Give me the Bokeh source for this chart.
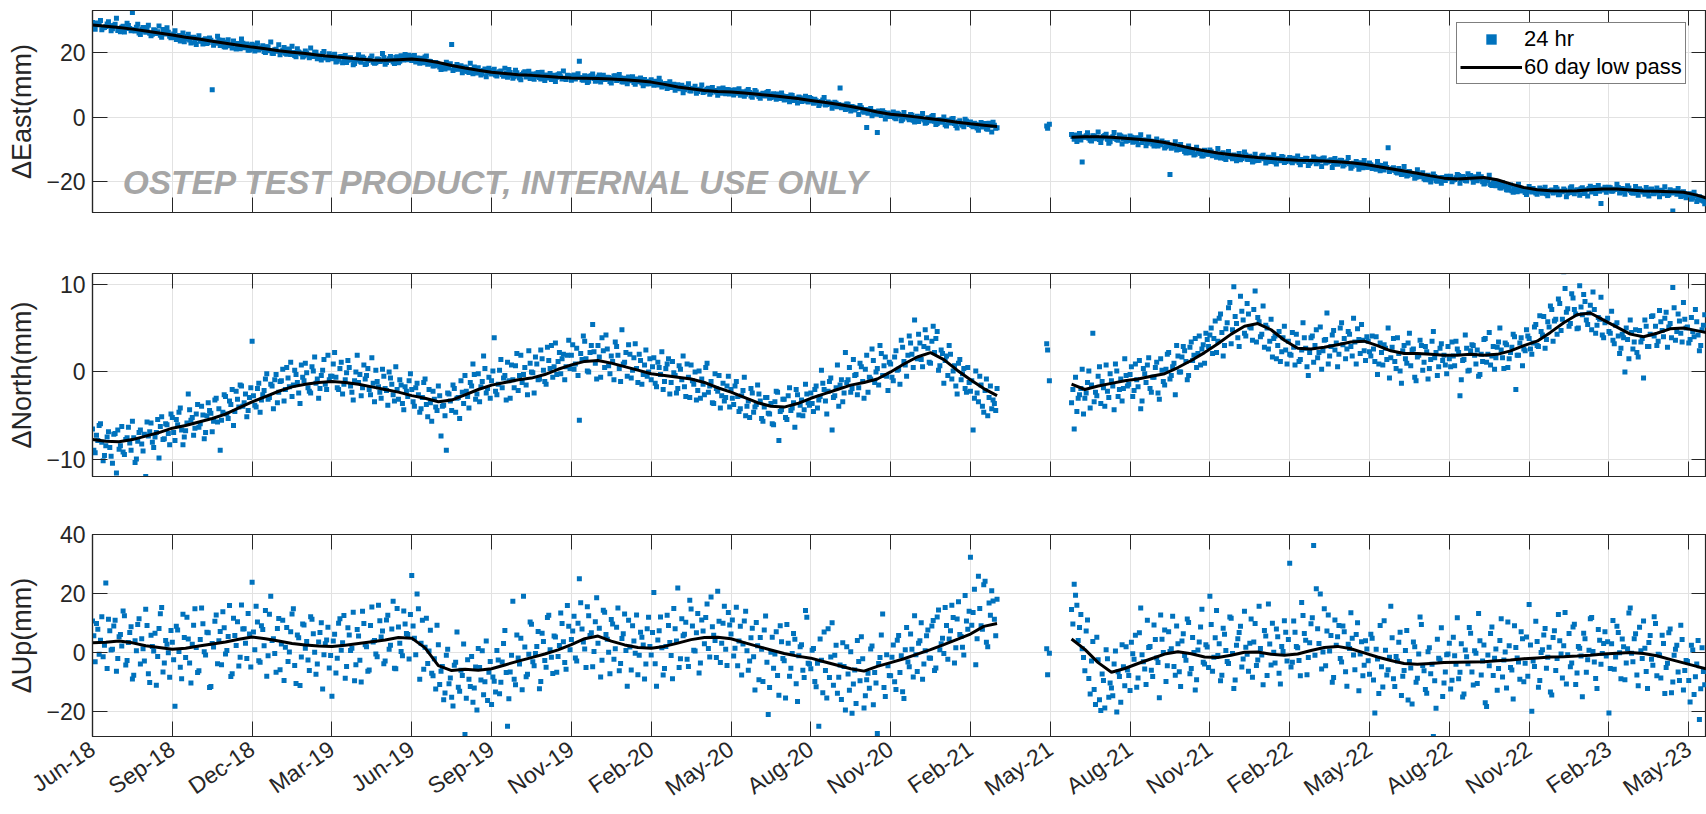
import math
import numpy as np
import pandas as pd
from bokeh.plotting import figure
from bokeh.layouts import column
from bokeh.models import (Range1d, FixedTicker, LinearAxis, CustomJSTickFormatter,
                          Label, Legend, LegendItem, ColumnDataSource)
from bokeh.embed import file_html
from bokeh.resources import INLINE

# ---------------- data ----------------
seg1_start = "2018-06-08"     # first block of 24 hr solutions
seg2_start = "2021-06-16"     # second block
gap_dates = ["2021-05-19", "2021-05-20", "2021-05-22"]
sample_step_days = 3          # each series "a" / "b" is read every 3 days, b shifted by 1.5 days
b_offset_days = 1.5
lowpass_step_days = 15

east_seg1 = [
    29.5, 27.4, 28.9, 30.1, 27.8, 28.2, 29.7, 26.9, 28.5, 30.8, 27.1, 28.0, 26.5, 29.2, 27.6, 32.6, 26.8, 28.9, 25.7, 27.9, 26.4, 28.6, 25.3, 27.2, 26.0, 28.4, 24.9, 26.7, 27.8, 25.2,
    24.8, 26.9, 25.1, 23.7, 26.2, 24.4, 25.8, 23.1, 24.9, 22.6, 25.3, 23.8, 24.1, 22.9, 24.6, 8.5, 23.4, 25.2, 22.3, 23.9, 21.8, 24.1, 22.5, 23.7, 21.2, 22.9, 24.3, 21.6, 22.8, 20.9,
    22.7, 20.6, 23.1, 21.4, 22.2, 20.1, 21.8, 23.4, 19.8, 21.1, 22.5, 20.3, 21.7, 19.6, 20.9, 22.1, 19.2, 21.3, 20.0, 18.7, 20.6, 19.4, 21.5, 18.9, 20.2, 19.1, 17.8, 20.4, 18.6, 19.7,
    18.2, 19.6, 17.4, 18.8, 16.9, 19.2, 17.7, 18.5, 16.3, 17.9, 19.4, 17.1, 18.3, 16.6, 17.8, 19.0, 16.8, 18.1, 17.3, 19.8, 16.5, 17.6, 18.9, 17.2, 18.6, 16.9, 19.1, 17.8, 18.4, 19.3,
    17.6, 19.2, 18.4, 16.8, 17.9, 18.7, 16.5, 17.3, 15.9, 17.0, 16.2, 14.8, 15.7, 17.1, 15.3, 22.6, 14.9, 16.4, 15.1, 13.8, 15.6, 14.2, 16.8, 13.5, 14.7, 15.4, 13.1, 14.5, 12.6, 15.2,
    13.4, 14.9, 12.8, 14.1, 13.3, 15.2, 12.4, 13.9, 12.1, 14.6, 13.0, 11.6, 13.7, 12.5, 14.3, 12.9, 11.8, 13.5, 12.3, 14.0, 11.4, 12.8, 13.6, 12.0, 11.1, 13.2, 12.6, 14.4, 11.7, 12.9,
    11.5, 13.1, 12.4, 17.4, 11.6, 12.9, 10.8, 12.7, 13.4, 11.2, 12.5, 10.9, 13.0, 11.8, 12.3, 10.6, 12.8, 11.4, 13.3, 11.0, 12.1, 10.4, 11.9, 12.6, 10.2, 11.5, 12.2, 9.8, 11.1, 10.5,
    11.6, 9.9, 10.7, 12.1, 9.4, 10.3, 8.9, 11.0, 9.6, 8.4, 10.1, 8.8, 7.6, 9.3, 10.4, 8.1, 9.0, 7.4, 8.6, 10.0, 7.9, 8.7, 7.1, 9.2, 8.3, 6.8, 8.0, 9.1, 7.3, 8.5,
    8.4, 6.9, 7.6, 8.8, 7.2, 6.5, 8.1, 7.7, 6.2, 8.3, 7.0, 5.9, 7.4, 6.6, 8.0, 6.1, 7.3, 5.6, 6.8, 7.5, 5.3, 6.4, 4.8, 6.7, 5.5, 4.4, 6.0, 5.1, 6.5, 4.7,
    5.8, 4.3, 5.1, 3.6, 4.9, 6.1, 3.9, 4.4, 2.8, 4.6, 3.2, 9.1, 3.7, 2.4, 4.0, 1.9, 3.1, 2.6, 0.8, 2.9, 1.5, -3.2, 2.2, 0.4, 1.7, -4.8, 0.9, 2.0, -0.6, 1.3,
    0.2, 1.6, -0.5, 0.9, -1.1, 1.4, 0.1, -0.8, 0.6, -1.5, 0.3, -0.4, 1.1, -1.9, -0.2, -1.2, 0.5, -2.3, -0.9, -1.6, 0.0, -2.8, -1.3, -0.6, -2.0, -3.4, -1.1, -2.5, -0.7, -1.8,
    -1.5, -3.0, -2.2, -4.1, -1.7, -2.9, -3.6, -1.9, -4.6, -2.5, -3.3,
]
east_seg1_b = [
    28.1, 29.3, 28.8, 27.2, 27.9, 29.0, 28.4, 27.5, 28.9, 27.0, 26.6, 28.3, 27.7, 28.5, 26.9, 27.3, 28.0, 26.2, 27.4, 26.8, 27.9, 26.1, 25.8, 27.0, 26.6, 25.5, 27.3, 25.9, 26.4, 24.7,
    25.9, 24.2, 25.4, 24.7, 23.5, 25.1, 24.0, 24.8, 23.3, 24.5, 23.6, 22.8, 24.4, 23.2, 23.9, 22.4, 23.0, 24.0, 22.7, 21.9, 23.3, 22.2, 21.5, 22.9, 22.1, 21.3, 23.0, 21.7, 20.8, 22.4,
    21.2, 22.3, 20.9, 21.6, 20.4, 21.9, 20.7, 19.9, 21.0, 20.5, 19.4, 20.8, 19.9, 21.2, 19.5, 20.1, 18.8, 20.3, 19.7, 19.0, 20.0, 18.5, 19.3, 20.2, 18.2, 19.0, 19.8, 18.4, 17.9, 19.1,
    18.6, 17.2, 18.0, 18.9, 17.5, 17.0, 18.4, 17.9, 16.7, 18.2, 17.4, 18.7, 16.4, 17.6, 18.3, 17.1, 16.9, 18.0, 17.5, 18.6, 17.0, 18.2, 17.7, 16.7, 18.8, 17.4, 18.1, 19.5, 17.9, 18.5,
    18.9, 17.2, 17.8, 18.3, 16.9, 19.0, 17.4, 16.6, 16.0, 16.8, 15.6, 16.3, 15.0, 16.1, 16.6, 14.5, 15.8, 14.9, 16.0, 14.4, 15.3, 13.9, 14.8, 15.6, 13.7, 14.2, 13.5, 15.0, 13.9, 14.3,
    14.5, 13.1, 13.8, 14.4, 12.7, 13.6, 14.8, 13.0, 12.6, 13.8, 12.2, 13.3, 14.1, 12.8, 12.0, 13.4, 12.7, 13.9, 11.9, 12.5, 13.1, 12.2, 11.7, 13.0, 12.4, 13.5, 11.9, 12.1, 13.0, 12.6,
    12.8, 11.9, 13.5, 12.3, 11.5, 12.6, 11.2, 12.9, 12.0, 11.4, 13.1, 12.2, 11.7, 12.4, 11.1, 12.0, 12.9, 11.6, 12.2, 10.9, 11.8, 12.5, 11.3, 10.8, 11.9, 11.0, 10.6, 11.7, 10.3, 11.2,
    10.4, 11.2, 10.0, 10.9, 9.7, 10.5, 9.9, 9.2, 10.2, 8.9, 9.5, 9.9, 8.5, 9.1, 8.2, 8.9, 9.6, 8.0, 8.7, 7.7, 8.4, 9.0, 7.6, 8.2, 7.8, 8.8, 7.4, 7.9, 8.6, 7.2,
    7.9, 8.5, 7.4, 6.8, 7.9, 7.1, 8.6, 6.6, 7.3, 7.8, 6.4, 7.1, 6.7, 7.7, 5.9, 6.9, 6.3, 7.2, 5.8, 6.6, 6.1, 5.5, 6.9, 5.2, 5.9, 6.3, 4.9, 5.7, 5.0, 6.1,
    5.0, 5.6, 4.6, 4.1, 5.3, 3.8, 4.7, 4.2, 3.4, 4.3, 3.9, 2.9, 3.5, 4.1, 2.7, 3.3, 2.2, 2.9, 3.6, 1.8, 2.4, 1.2, 2.7, 1.6, 0.9, 1.9, 0.5, 1.4, 0.2, 1.0,
    0.7, -0.2, 1.2, 0.4, -0.7, 0.2, -0.3, 0.8, -1.0, -0.1, -1.4, 0.0, -0.9, -1.7, -0.5, 0.2, -1.3, -2.0, -0.8, -1.4, -2.4, -1.0, -1.8, -0.4, -2.6, -1.5, -2.1, -3.0, -1.2, -2.3,
    -2.6, -1.9, -3.4, -2.4, -3.1, -2.0, -3.8, -2.7, -1.6, -3.5,
]
east_gap = [-2.8, -3.5, -2.2]
east_seg2 = [
    -5.4, -6.9, -7.6, -5.1, -14.0, -6.3, -4.9, -7.2, -5.8, -6.7, -4.6, -7.9, -6.0, -5.3, -8.1, -6.5, -4.8, -7.0, -5.6, -8.4, -6.2, -7.3,
    -5.9, -7.8, -6.4, -8.6, -5.5, -7.1, -8.9, -6.2, -7.5, -9.0, -6.8, -8.2, -7.4, -9.6, -8.0, -17.9, -9.3, -7.7, -10.1, -8.5, -9.8, -11.2, -9.0, -10.6, -11.8, -9.4, -10.9, -12.1, -10.3, -11.5,
    -10.2, -12.0, -11.4, -9.8, -12.7, -11.1, -13.2, -10.7, -12.4, -11.8, -13.6, -11.3, -12.9, -10.9, -13.1, -12.2, -14.0, -11.6, -13.5, -12.8, -11.9, -14.3, -12.5, -13.8, -11.7, -14.6, -13.0, -12.3, -14.1, -13.4,
    -12.6, -14.2, -13.7, -12.1, -14.8, -13.3, -12.8, -15.1, -13.9, -12.4, -14.5, -13.1, -15.4, -12.7, -14.0, -13.6, -15.7, -12.9, -14.7, -13.4, -15.2, -14.1, -12.6, -15.9, -14.4, -13.8, -16.2, -14.9, -13.5, -15.6,
    -14.3, -16.0, -15.5, -13.8, -16.7, -15.1, -14.6, -9.5, -16.3, -15.8, -17.2, -16.0, -17.9, -15.4, -18.3, -16.9, -17.6, -19.0, -16.4, -18.6, -17.3, -19.5, -18.1, -20.2, -17.7, -19.8, -18.9, -20.6, -19.3, -18.4,
    -18.8, -20.1, -19.4, -17.9, -20.6, -18.5, -19.7, -17.6, -18.2, -20.3, -19.0, -17.8, -18.6, -20.8, -19.5, -18.1, -21.3, -19.9, -20.7, -22.0, -20.4, -21.6, -22.7, -21.1, -23.4, -22.2, -20.9, -23.0, -22.5, -24.1,
    -21.6, -23.3, -22.8, -24.0, -22.1, -23.7, -21.8, -24.5, -22.9, -23.6, -21.9, -24.2, -23.1, -22.4, -24.8, -23.5, -21.7, -23.9, -22.6, -24.3, -22.0, -23.2, -24.6, -21.5, -22.8, -23.8, -21.3, -26.9, -22.7, -23.4,
    -21.8, -23.1, -22.5, -20.9, -23.6, -22.2, -24.0, -21.4, -22.9, -23.7, -21.6, -24.3, -22.8, -23.3, -21.9, -24.6, -22.4, -23.9, -22.1, -24.8, -23.0, -21.7, -24.4, -22.6, -29.2, -23.5, -22.2, -24.7, -23.2, -25.1,
    -24.0, -25.6, -23.4, -26.3, -24.8, -25.9, -27.0,
]
east_seg2_b = [
    -6.0, -5.6, -6.8, -7.1, -6.2, -5.8, -6.6, -7.4, -5.9, -6.3, -7.0, -6.5, -5.7, -6.9, -7.7, -6.1, -6.6, -7.2, -5.9, -6.8, -7.5,
    -7.1, -6.3, -6.9, -7.6, -6.5, -7.9, -7.2, -8.1, -7.5, -8.4, -7.8, -9.0, -8.6, -8.0, -9.2, -8.8, -9.7, -9.1, -10.2, -9.5, -10.0, -10.7, -9.9, -11.1, -10.5, -11.6, -10.8, -11.3, -12.0, -11.0,
    -11.6, -10.8, -11.9, -12.5, -11.4, -12.2, -12.8, -11.7, -12.3, -13.0, -12.1, -12.7, -13.3, -12.4, -11.8, -13.2, -12.6, -13.7, -12.9, -13.4, -12.2, -13.0, -13.9, -12.7, -13.3, -14.0, -12.9, -13.6, -12.5, -13.8,
    -13.1, -13.9, -12.8, -13.5, -14.1, -13.2, -13.8, -12.9, -14.4, -13.6, -13.0, -14.0, -13.7, -12.8, -14.3, -13.9, -13.3, -14.6, -13.8, -14.2, -13.5, -14.8, -14.0, -14.5, -15.3, -14.7, -15.0, -14.2, -15.8, -15.2,
    -15.6, -14.8, -15.3, -16.2, -15.0, -15.9, -16.5, -15.7, -16.9, -16.1, -16.6, -17.4, -16.8, -17.7, -17.0, -18.1, -17.5, -17.9, -18.7, -18.0, -18.4, -19.2, -18.6, -19.5, -19.0, -18.5, -20.0, -19.4, -18.8, -19.7,
    -19.1, -18.4, -19.6, -18.9, -18.2, -19.3, -18.7, -19.9, -18.3, -19.0, -18.6, -19.8, -19.2, -20.1, -20.6, -19.7, -21.0, -20.4, -21.4, -20.9, -22.1, -21.5, -22.6, -21.8, -22.9, -22.3, -23.2, -22.0, -22.7, -23.5,
    -22.6, -23.0, -22.2, -23.6, -22.9, -23.3, -22.5, -23.9, -23.1, -22.7, -23.4, -22.4, -24.0, -23.2, -22.8, -23.7, -22.1, -23.5, -22.9, -23.0, -22.3, -23.8, -22.6, -22.2, -23.3, -21.9, -22.7, -23.1, -22.4, -21.8,
    -22.7, -22.0, -23.0, -22.4, -21.9, -22.8, -23.3, -22.5, -22.1, -23.5, -22.9, -23.6, -22.3, -23.1, -24.0, -23.2, -22.6, -23.8, -23.0, -23.4, -22.8, -23.9, -23.3, -24.2, -23.6, -22.9, -24.0, -23.5, -24.5, -23.8,
    -24.4, -23.9, -25.1, -24.6, -25.8, -25.2, -26.1,
]
east_lowpass1 = [
    28.7, 28.3, 27.9, 27.4, 26.8, 26.2, 25.6, 24.9, 24.3, 23.6, 23.0, 22.4, 21.8, 21.3, 20.7, 20.2, 19.8, 19.3,
    18.9, 18.5, 18.1, 17.8, 17.7, 17.9, 18.1, 17.7, 17.0, 16.1, 15.3, 14.6, 14.0, 13.6, 13.2, 13.0, 12.7, 12.4,
    12.2, 12.1, 12.0, 11.9, 11.6, 11.3, 10.9, 10.2, 9.4, 8.8, 8.3, 8.0, 7.8, 7.5, 7.1, 6.7, 6.3, 5.8,
    5.2, 4.6, 4.0, 3.3, 2.5, 1.6, 0.9, 0.5, 0.0, -0.5, -1.0, -1.6, -2.1, -2.5, -2.9,
]
east_lowpass2 = [
    -6.3, -6.1, -6.1, -6.3, -6.6, -6.9, -7.3, -7.9, -8.8, -9.7, -10.5, -11.2, -11.7, -12.2, -12.6, -12.9, -13.2,
    -13.4, -13.5, -13.7, -13.9, -14.2, -14.7, -15.4, -16.1, -16.8, -17.5, -18.3, -19.0, -19.3, -19.0, -18.8,
    -19.5, -20.8, -21.9, -22.6, -22.9, -23.0, -22.9, -22.6, -22.4, -22.4, -22.7, -23.0, -23.1, -23.2, -23.4, -24.3, -25.5,
]

north_seg1 = [
    -6.5, -9.2, -7.8, -5.9, -10.1, -8.4, -6.8, -9.6, -7.1, -11.5, -8.8, -6.2, -9.4, -7.5, -8.1, -5.6, -10.3, -7.9, -6.6, -9.0, -11.9, -7.3, -5.8, -8.6, -6.9, -9.8, -5.1, -7.6, -6.0, -8.3,
    -5.2, -7.8, -6.0, -4.1, -8.3, -6.7, -2.5, -5.5, -7.2, -4.8, -6.3, -3.9, -7.6, -5.0, -4.4, -6.8, -3.2, -5.7, -8.9, -4.6, -2.8, -5.3, -3.7, -6.1, -2.2, -4.0, -1.6, -3.5, -5.1, -2.9,
    3.5, -3.8, -1.9, -4.6, -2.6, -0.8, -3.1, -1.4, -4.2, -0.3, -2.3, -1.0, -3.3, 0.5, -1.7, -2.8, 0.2, -1.2, -3.6, -0.6, 1.0, -1.8, -2.4, 0.1, -1.3, -3.0, -0.4, 1.4, -2.0, -0.9,
    -0.5, 2.2, -1.8, 0.4, -2.5, -0.9, 1.3, -1.6, -3.2, 0.0, -1.2, -2.7, 0.8, -0.4, -2.0, 1.6, -3.4, -1.1, -2.3, 0.3, -1.9, -3.8, -0.7, -2.6, 0.6, -3.1, -1.5, -4.3, -2.2, -1.0,
    -2.0, -3.9, -1.3, -4.6, -2.9, -0.8, -5.1, -3.5, -2.2, -4.0, -1.6, -7.3, -3.8, -8.9, -2.5, -4.4, -1.9, -3.0, -5.3, -2.3, -0.4, -2.8, -1.2, 0.9, -3.1, -0.2, -1.7, 1.8, -2.4, -0.6,
    -1.0, 3.9, -2.6, 0.2, -1.8, -0.4, 1.1, -3.0, -0.9, 0.7, -2.1, 1.9, -0.3, -1.5, 2.4, 0.0, -2.4, 0.9, -0.8, 1.5, -1.1, 2.8, 0.4, -0.6, 3.3, 1.2, -0.2, 2.0, 0.6, 3.6,
    1.9, 0.3, 2.7, -5.5, 1.4, 3.5, 0.1, 2.2, 5.4, 1.0, 3.0, -0.6, 2.4, 4.2, 0.7, 1.8, -0.9, 2.9, 0.4, 4.8, 1.1, -0.5, 2.0, 0.2, 3.2, -1.2, 1.3, -0.3, 2.5, 0.0,
    -0.9, 1.6, -1.7, 0.5, 2.3, -1.1, 0.9, -2.5, 1.2, -0.4, -1.9, 0.3, 1.8, -2.8, -0.6, 0.8, -1.4, -3.2, 0.1, -0.8, -2.6, 1.0, -1.6, -3.5, -0.2, -2.2, -4.1, -1.3, -2.9, -0.5,
    -2.0, -3.7, -1.1, -4.5, -2.7, -0.6, -3.9, -5.2, -2.4, -4.0, -1.5, -3.3, -5.6, -2.9, -4.7, -3.6, -6.0, -2.2, -7.8, -4.3, -3.1, -5.4, -1.8, -4.1, -6.3, -2.6, -3.8, -5.0, -1.4, -3.5,
    -2.4, -4.5, -1.6, -3.2, 0.2, -2.0, -4.8, -1.1, -6.6, -2.7, 0.8, -1.5, -3.4, 2.2, -0.9, -2.3, 1.4, -0.3, -1.8, 0.6, -3.0, 1.9, -0.6, 2.6, -1.2, 0.4, 3.0, -0.4, 1.7, -2.1,
    0.9, -1.0, 2.4, 0.3, 3.6, 1.2, -0.5, 4.1, 2.0, 5.9, 1.5, 3.3, 0.6, 4.8, 2.7, 1.0, 5.2, 3.8, 0.2, 2.5, -1.3, 1.8, 3.0, -0.8, 0.7, -2.5, 1.4, -0.2, -1.9, 0.5,
    -2.2, -6.6, 0.1, -3.4, -1.5, -4.6, -0.8, -2.9, -4.2, -3.6, -1.9,
]
north_seg1_b = [
    -8.9, -7.2, -6.1, -8.0, -9.5, -7.4, -8.6, -10.4, -7.0, -6.6, -8.4, -9.1, -7.7, -6.3, -8.9, -7.5, -9.9, -6.9, -8.2, -7.1, -5.7, -6.8, -8.0, -7.4, -5.4, -6.2, -7.7, -5.9, -7.0, -4.8,
    -6.9, -5.4, -4.6, -6.6, -7.4, -5.8, -4.3, -5.2, -6.4, -3.7, -5.9, -4.9, -6.9, -3.5, -4.7, -5.6, -3.0, -4.2, -5.5, -2.6, -4.8, -3.3, -2.0, -4.5, -3.1, -1.5, -3.9, -2.5, -4.4, -1.8,
    -2.7, -4.0, -1.3, -3.2, -2.1, -0.2, -2.9, -1.6, -0.9, -3.5, -1.1, 0.3, -2.0, -0.7, 1.1, -1.5, -0.3, -2.4, 0.8, -1.0, -0.1, -2.2, 0.6, 1.7, -0.8, -1.9, 0.2, -1.4, 1.9, -0.5,
    0.9, -0.6, -2.0, 1.1, -1.4, -0.1, 0.5, -2.3, -1.0, 1.9, -0.3, -1.8, -0.8, 0.4, -2.6, -1.3, 0.2, -1.7, -3.0, -0.5, -2.1, 0.0, -1.4, -3.3, -2.0, -0.9, -3.6, -1.7, -2.8, -0.2,
    -3.4, -1.8, -2.6, -4.2, -1.2, -3.7, -2.0, -5.6, -3.1, -4.4, -2.7, -3.9, -5.0, -2.4, -3.3, -1.5, -4.6, -2.9, -1.0, -3.6, -2.2, -4.1, -1.6, -0.3, -2.5, -3.4, -1.1, 0.4, -1.9, -3.0,
    0.1, -2.2, -1.4, 1.4, -0.7, -3.2, -1.0, 0.8, -1.8, 2.1, -0.4, -1.2, 0.5, -2.6, 1.0, -0.1, 1.7, -0.9, 2.5, 0.2, -1.4, 1.3, 3.0, 0.6, -0.3, 2.2, 1.5, -0.9, 1.9, 0.4,
    3.1, 0.9, -0.4, 2.1, 4.1, 1.5, 0.0, 3.0, 2.3, -0.8, 1.7, 3.9, 0.5, 2.6, -0.2, 1.2, 3.4, 1.9, -1.1, 0.9, 2.2, 3.1, -0.7, 1.6, 0.4, 2.0, -1.4, 0.8, -0.5, 1.5,
    0.6, -1.3, 1.1, -0.3, -2.0, 0.4, 1.5, -1.2, -0.1, -2.4, 0.7, -0.9, -1.7, 0.9, -2.9, -1.0, 0.0, -2.1, -3.0, -1.4, 0.5, -2.3, -1.1, -3.6, -1.9, -0.4, -2.7, -3.3, -1.6, -4.0,
    -3.0, -1.6, -2.8, -4.2, -2.1, -5.0, -3.3, -1.9, -4.6, -3.7, -2.5, -5.3, -4.0, -2.9, -4.8, -5.9, -3.4, -2.3, -4.5, -3.1, -5.2, -2.7, -4.4, -3.5, -2.0, -4.9, -3.2, -4.3, -2.5, -3.8,
    -3.6, -2.0, -4.1, -2.8, -1.3, -3.3, -2.2, -0.7, -2.9, -1.8, -3.9, -0.9, -2.4, -1.2, 0.5, -1.9, -0.4, -2.6, 1.0, -1.1, 0.3, -2.3, -0.8, 1.3, 0.0, -1.5, 2.1, 0.7, -0.5, 1.1,
    -0.6, 1.7, 0.2, -1.4, 2.8, 0.8, 1.9, 3.3, 0.5, 2.6, 4.3, 1.4, 2.9, 3.9, 1.1, 3.5, 2.2, 4.6, 0.7, 2.1, 1.3, -0.4, 2.0, 0.1, -1.6, 1.0, -0.9, 0.4, -2.3, -1.2,
    -1.0, -3.0, -2.4, -0.5, -3.9, -2.1, -5.0, -1.6, -3.2, -4.4,
]
north_gap = [3.2, 2.5, -1.0]
north_seg2 = [
    -3.5, -6.5, -4.5, -2.6, 0.3, -3.0, -1.2, -4.1, 4.4, -2.3, -0.5, -3.6, -1.8, 0.8, -2.9, -1.0, -4.3, 0.1, -2.0, -3.3, 1.5, -1.6,
    -0.3, -2.8, 0.9, -1.7, -4.2, 0.4, -1.2, 1.6, -2.3, -0.6, 1.1, -3.1, 0.2, -1.5, 2.0, -0.8, 0.6, -2.6, 1.8, 0.0, 2.9, 1.2, -0.4, 3.4, 1.9, 0.5, 4.1, 2.6, 1.0, 3.7,
    4.2, 2.1, 5.8, 3.5, 6.6, 1.8, 4.9, 7.3, 3.2, 9.7, 5.5, 2.9, 6.9, 4.4, 7.8, 5.1, 3.6, 9.2, 6.2, 4.0, 7.5, 5.3, 2.6, 6.0, 3.8, 1.5, 4.6, 2.3, 5.2, 0.9,
    2.0, 4.5, 0.8, 3.3, 1.4, 5.6, 2.7, -0.4, 3.9, 1.1, 4.8, 2.2, 0.3, 3.6, 6.7, 1.8, 4.2, 2.5, 0.6, 5.0, 3.1, 1.5, 4.6, 2.9, 6.1, 0.9, 3.7, 5.4, 2.4, 4.0,
    2.3, 4.1, 1.2, -0.3, 3.3, 0.8, 2.7, 5.0, 1.6, 3.8, 0.4, 2.1, -1.3, 3.0, 1.0, 4.4, 2.5, -0.6, 1.7, 3.6, 0.2, 2.9, -0.8, 1.4, 4.6, 2.2, 0.6, 3.2, 1.9, -0.2,
    1.5, 3.4, 0.7, 2.6, -2.7, 1.3, 4.2, 0.1, 2.4, 3.0, 0.9, -0.5, 2.0, 3.7, 1.1, 4.5, 1.8, 0.3, 2.8, 5.0, 1.6, 3.3, 0.5, 2.2, 4.3, -2.0, 1.9, 3.9, 2.6, 4.8,
    3.8, 2.0, 5.1, 3.0, 6.4, 4.2, 2.7, 5.7, 7.5, 3.5, 6.0, 8.3, 4.7, 11.4, 6.8, 5.2, 8.9, 7.1, 4.9, 9.8, 6.5, 8.0, 5.4, 7.6, 9.1, 4.4, 6.2, 8.5, 3.9, 5.8,
    4.6, 6.9, 3.2, 5.6, 2.1, 4.3, 0.0, 3.7, 5.9, 2.6, 4.8, 1.7, 3.4, -0.7, 5.2, 2.9, 6.3, 4.1, 3.0, 7.0, 4.7, 6.1, 2.8, 5.5, 9.6, 3.6, 6.6, 4.4, 7.9, 5.0,
    3.3, 6.2, 4.0, 5.7, 2.4, 4.8, 6.5,
]
north_seg2_b = [
    -2.0, -0.6, -3.0, -1.9, -4.8, -2.4, 0.1, -1.5, -3.4, -2.7, 0.6, -1.1, -3.9, -2.2, -0.2, -1.6, 0.9, -2.8, -0.8, -1.9, -0.4,
    -1.4, 0.6, -2.1, -0.9, 1.3, -3.3, -0.2, 0.8, -1.9, -0.6, 0.5, -2.4, 1.5, -1.1, 0.3, 2.2, -0.4, 1.0, 3.0, 0.0, 1.7, 2.4, -0.9, 2.8, 1.3, 3.8, 2.1, 0.8, 3.1, 4.4,
    2.9, 5.0, 3.8, 2.2, 6.1, 4.5, 3.0, 5.6, 7.9, 4.8, 6.3, 3.9, 8.6, 5.9, 4.1, 6.6, 5.0, 7.1, 3.4, 5.7, 4.3, 2.8, 5.0, 3.5, 1.7, 4.1, 3.0, 1.2, 3.9, 2.5,
    3.5, 1.9, 2.8, 4.3, 1.2, 2.5, 3.9, 0.6, 2.2, 4.1, 3.0, 1.6, 5.1, 2.4, 3.7, 0.9, 2.9, 4.7, 3.3, 2.0, 5.6, 3.8, 2.6, 4.3, 1.8, 3.4, 4.9, 2.1, 3.6, 1.3,
    3.5, 1.8, 2.6, 4.0, 0.9, 2.2, 3.1, 1.4, -0.7, 2.8, 1.2, 3.9, 0.1, 2.4, 1.5, 3.3, 0.7, 2.6, -1.0, 1.9, 3.0, 1.1, 2.3, 0.4, 3.5, 1.6, -0.4, 2.7, 1.3, 0.8,
    2.9, 0.6, 1.8, 3.5, 2.2, -0.9, 1.4, 2.7, 0.2, 3.1, 1.9, 2.5, -0.3, 1.2, 3.8, 2.0, 0.8, 2.9, 1.6, 3.4, 2.5, 0.4, 3.1, 1.5, 2.8, 4.0, 1.9, 3.3, 0.7, 2.4,
    4.1, 2.6, 3.3, 5.4, 2.9, 4.6, 6.3, 3.7, 5.1, 7.1, 5.8, 4.3, 7.8, 6.0, 9.5, 7.2, 5.5, 8.4, 6.6, 5.0, 7.4, 8.8, 5.9, 6.7, 4.8, 7.1, 5.3, 6.0, 4.2, 5.6,
    6.1, 4.4, 3.6, 5.3, 4.1, 2.7, 3.9, 5.0, 1.5, 4.5, 3.4, 2.2, 4.7, 3.8, 5.9, 2.9, 4.3, 6.4, 5.2, 3.5, 5.7, 4.0, 6.8, 5.1, 3.9, 7.3, 4.6, 5.8, 3.4, 6.0,
    5.1, 3.7, 4.6, 7.1, 4.2, 3.0, 5.3,
]
north_lowpass1 = [
    -7.7, -7.9, -7.95, -7.7, -7.3, -6.9, -6.4, -6.1, -5.7, -5.3, -4.8, -4.1, -3.4, -2.8, -2.2, -1.7, -1.4, -1.2,
    -1.1, -1.2, -1.4, -1.7, -2.0, -2.3, -2.7, -3.0, -3.4, -3.2, -2.6, -2.0, -1.5, -1.2, -0.9, -0.7, -0.3, 0.3,
    0.8, 1.2, 1.3, 1.0, 0.6, 0.2, -0.2, -0.4, -0.6, -0.8, -1.2, -1.8, -2.3, -2.9, -3.5, -3.9, -4.0, -3.6,
    -3.0, -2.5, -2.0, -1.5, -1.2, -0.8, 0.0, 0.9, 1.7, 2.2, 1.4, 0.2, -0.9, -1.9, -2.7,
]
north_lowpass2 = [
    -1.4, -2.0, -1.6, -1.3, -1.0, -0.8, -0.5, -0.2, 0.5, 1.3, 2.2, 3.2, 4.3, 5.2, 5.5, 4.8, 3.6,
    2.7, 2.6, 2.8, 3.1, 3.4, 3.5, 3.0, 2.4, 2.1, 2.1, 2.0, 1.9, 1.9, 2.0, 1.9,
    2.0, 2.4, 3.0, 3.5, 4.5, 5.6, 6.5, 6.7, 5.9, 5.1, 4.3, 4.0, 4.4, 4.9, 5.0, 4.7, 4.4,
]

up_seg1 = [
    10.6, -3.2, 7.8, 4.1, -1.5, 23.5, 11.2, 0.8, 8.9, -6.4, 5.3, 2.1, 12.4, -2.8, 6.7, -9.1, 3.9, 9.4, -4.0, 1.2, 14.6, -7.3, 5.8, 0.4, -11.2, 8.1, 15.2, -3.6, 2.7, -8.5,
    3.4, -18.3, 7.6, -5.1, 12.9, -1.8, 4.5, -10.4, 9.2, 1.6, -6.3, 15.0, 0.2, 6.8, -12.0, 3.0, 10.5, -3.9, 7.1, 13.8, -0.6, 5.4, -8.2, 11.6, 2.3, -4.7, 16.1, 8.0, -2.1, 6.2,
    23.8, 0.9, 10.3, -3.4, 7.7, 14.2, -1.2, 19.0, 4.6, -6.8, 11.5, 2.8, -9.6, 8.4, 0.1, 13.0, -4.5, 5.9, -11.3, 9.6, 1.4, -2.6, 12.1, 6.3, -7.5, 3.5, 10.0, -0.8, 4.2, -5.3,
    -14.9, 6.1, -2.0, 11.4, 3.2, -8.8, 8.3, 0.6, 13.6, -4.2, 5.5, -10.1, 9.8, 1.9, -6.0, 15.4, 4.0, -1.5, 10.7, 7.2, -3.0, 12.6, 2.4, 17.3, -5.6, 8.6, 0.3, 14.0, 6.4, -2.3,
    26.1, 4.8, 19.8, -9.2, 10.9, 1.7, -3.8, 7.5, -8.0, -12.5, 2.6, -6.4, -16.1, -1.0, -10.7, -15.3, -4.4, 6.9, -13.2, -7.9, -27.9, -2.5, -11.6, -17.0, -5.0, 1.3, -9.4, -14.4, 3.8, -6.8,
    -17.7, -9.8, 0.6, -14.1, -3.3, 7.4, -25.1, -6.7, 17.3, -11.0, -1.9, 4.8, 19.0, -8.3, -0.7, 9.5, -4.6, 2.0, -12.4, 6.5, -2.8, 11.8, 0.9, -7.2, 5.2, -1.4, 13.3, 3.6, -5.8, 8.8,
    4.3, 12.2, -3.0, 25.0, 7.9, 1.1, 15.5, 5.7, -4.9, 10.4, 3.1, -8.4, 14.3, 6.0, 0.0, 11.1, -2.4, 8.5, -6.3, 4.7, 13.0, -11.5, 1.8, 9.0, -0.3, -7.6, 6.8, 2.5, -4.0, 11.9,
    -0.9, 20.3, -11.5, 7.3, 1.5, -5.5, 12.6, 3.3, -9.0, 8.0, 21.8, -2.2, 5.6, 10.2, -4.8, 14.7, 0.7, 6.6, -7.0, 11.0, 2.9, 16.4, -1.6, 8.7, 4.0, 20.7, -3.5, 9.9, 1.0, 13.5,
    6.2, -1.3, 15.3, 3.8, -7.7, 10.6, 0.5, -3.0, 8.2, -12.8, 2.2, 5.0, -9.9, 12.3, -21.1, 0.0, -5.4, 7.0, -14.6, 3.6, -2.9, 9.4, -8.1, -0.4, 4.4, -16.7, 1.9, -6.1, 14.2, -3.7,
    -5.6, 1.3, -11.7, -25.1, -2.7, 6.9, -15.5, -8.6, 10.0, -1.0, -13.9, -4.3, 3.2, -19.6, -7.4, 0.2, -10.8, -17.4, -3.1, 5.3, -18.9, -9.3, -12.2, 2.1, -6.9, -27.6, -1.8, 13.0, -15.0, -4.6,
    -8.0, 2.5, -12.6, 5.7, -1.2, -15.7, 8.4, -4.9, 1.0, 12.4, -6.5, 3.9, -9.2, 0.5, 7.6, -2.0, 10.8, -5.3, 14.4, 2.9, -0.4, 9.1, 4.5, 16.0, -3.6, 11.3, 6.0, 1.7, 19.3, 7.8,
    32.3, 13.5, -4.2, 25.8, 9.0, 22.9, 3.4, 16.7, 20.9, 11.2, 18.0,
]
up_seg1_b = [
    5.6, 9.8, -0.7, 12.1, 2.4, -5.5, 7.3, 1.0, 10.9, -2.1, 6.0, 14.0, -4.3, 3.3, 8.7, -7.8, 0.5, 11.4, 4.6, -3.0, 9.1, -10.3, 2.0, 6.5, -1.4, 13.1, -6.7, 4.0, -0.2, 7.4,
    -2.5, 8.8, 0.3, -9.0, 5.0, 11.9, -3.6, 2.7, 14.8, -6.9, 4.3, 9.7, -0.9, 6.6, -11.6, 1.8, 12.7, 3.9, -4.2, 8.3, 0.6, 15.9, -7.3, 5.7, 10.4, -1.7, 7.9, 3.1, 13.2, -5.0,
    6.9, 15.6, -2.9, 9.0, 2.2, -8.1, 12.9, 4.0, -0.4, 8.1, -5.9, 10.9, 1.7, -3.1, 7.0, 14.8, -10.6, 4.9, -1.6, 9.3, 3.7, -6.2, 11.2, 0.0, -4.0, 6.7, -12.5, 2.9, 8.5, -1.1,
    3.8, -7.0, 9.9, 0.7, 12.5, -4.8, 5.9, 1.4, -9.7, 7.7, -2.7, 13.9, 2.6, -6.4, 9.1, 3.5, -0.6, 16.0, 5.2, -3.9, 11.0, 1.0, 7.9, -5.4, 14.9, 3.1, -1.2, 9.6, 6.0, 12.8,
    8.9, -0.8, 14.8, 3.1, -5.8, 11.6, 0.4, -7.1, -2.2, 9.2, -10.9, -4.8, -13.8, 1.0, -8.7, -18.2, -3.4, -11.9, -6.1, 2.8, -15.6, -9.2, -1.4, -12.1, -19.6, -5.2, 0.5, -10.0, -16.4, -3.1,
    -8.4, -13.5, -2.6, -10.2, 3.0, -6.9, -15.8, -1.0, -9.2, 5.9, -4.0, -12.7, 1.8, -7.5, 10.3, -3.2, -0.4, 7.1, -9.9, 3.7, -5.1, 12.6, -1.7, 5.5, -6.8, 2.3, 9.8, -3.5, 15.9, 0.9,
    7.2, -1.9, 9.9, 16.8, 3.5, -5.2, 12.4, 6.6, 0.3, 18.5, 8.2, -2.7, 13.6, 4.4, -7.3, 9.6, 1.2, 15.0, -3.8, 6.3, 0.6, 10.9, -6.0, 3.8, 12.7, -1.0, 5.1, -9.1, 8.0, 2.0,
    6.7, -3.9, 4.2, 12.0, -7.7, 2.0, 9.1, -1.1, 14.9, 3.8, -5.2, 11.4, 6.1, -2.4, 17.7, 8.9, 0.4, 13.2, -3.6, 7.2, 11.8, 1.3, 18.8, 5.8, -1.8, 10.5, 3.1, 15.6, -4.5, 9.3,
    11.0, 1.4, -4.6, 8.8, 2.8, 13.9, -6.1, 4.9, -1.5, 10.1, -9.3, 1.0, 7.6, -3.4, -12.0, 5.1, -0.6, -7.9, 9.0, -2.1, -15.5, 3.1, -5.4, 6.4, -10.7, -1.2, 2.6, -8.6, 11.9, -4.0,
    0.7, -9.9, -3.7, 4.5, -13.7, -6.2, 8.0, -1.6, -11.2, 2.4, -8.5, -16.0, -4.8, 1.9, -12.9, -20.7, -6.0, 4.0, -9.7, -2.2, -14.8, -7.1, 1.1, -17.8, -10.4, -3.8, 5.9, -12.0, -0.8, -7.9,
    -1.7, -10.0, 4.1, -6.9, -13.4, 0.9, -3.3, 6.2, -8.4, -0.8, 3.1, 10.0, -4.0, 5.6, -1.9, 8.9, -6.2, 12.0, 0.9, 4.8, 15.2, -2.4, 7.3, 11.8, 1.5, 17.2, 5.4, -0.9, 10.6, 13.9,
    9.2, 21.4, 4.6, 14.9, 7.8, 24.1, 1.9, 12.6, 17.4, 5.6,
]
up_gap = [1.2, -7.6, -0.3]
up_seg2 = [
    14.5, 23.1, 16.0, 8.4, 1.2, -6.3, 11.0, -14.2, 3.7, -17.7, -2.5, -19.8, -9.6, 0.9, -15.3, -12.1, -4.0, -20.3, -8.2, 2.6, -11.4, -6.0,
    -13.0, -0.5, 5.8, -8.7, 15.0, -3.2, -10.9, 1.6, -6.1, 9.3, -1.9, -15.4, 4.4, 7.6, -4.6, 0.3, 12.2, -7.8, 2.9, -11.6, 6.3, -2.7, 10.1, -5.5, -0.1, -9.3, 3.5, 14.6, -4.0, 1.8,
    19.0, -6.4, 4.9, -1.1, -9.7, 8.2, 0.6, -3.8, 11.6, -12.3, 2.4, 6.7, -5.0, 13.9, -0.7, 3.1, -8.5, 9.8, -2.6, 1.3, -11.0, 5.5, 16.4, -4.3, 0.0, 7.9, -7.1, 2.0, 10.7, -3.0,
    30.2, -3.4, 6.8, 1.5, -8.0, 12.5, 4.1, -1.8, 9.7, 36.3, 21.6, 3.0, -5.7, 14.8, 7.2, 0.4, -10.2, 11.0, 5.3, -2.1, 8.9, -6.6, 2.7, 13.4, -0.9, 6.0, -13.1, 3.6, -4.4, 1.1,
    -7.5, 4.8, -20.6, -2.3, 9.1, -11.8, 0.7, -5.9, 15.6, -9.0, -1.4, 3.4, -14.7, -6.2, 7.4, -3.1, -17.6, 1.9, -8.8, 12.0, -4.5, -12.6, 0.2, -7.3, -28.6, -19.0, -2.0, 8.3, -10.4, -0.8,
    3.1, -9.5, -1.2, 11.7, -6.8, -15.2, 0.8, -3.9, 6.5, -11.1, -0.3, 13.2, -7.7, 2.5, -18.4, -4.6, 8.6, -2.0, -12.9, 4.0, -8.4, 0.1, 10.3, -5.2, -15.9, 1.6, -3.3, 7.0, -10.0, 5.2,
    16.2, -20.0, -4.8, 3.7, -9.6, 0.9, 8.1, -1.7, -13.5, 5.0, -6.2, 12.8, -0.6, 2.2, -10.8, 6.4, -3.6, 9.5, -7.0, 1.4, -15.1, 4.6, -2.5, 11.4, 0.3, -8.9, 7.7, -4.1, 3.0, -1.3,
    -20.6, 2.9, -5.8, 8.8, -0.2, 4.5, -9.3, 1.2, 15.0, -3.2, 6.3, -11.4, 0.5, 10.6, -6.5, 3.3, -2.4, 12.1, -8.0, -0.9, 5.8, -14.0, -3.7, 7.9, -10.1, 1.0, -6.7, 9.2, -12.8, -2.8,
    -9.6, 2.4, -14.3, -4.0, -22.8, 1.5, -11.0,
]
up_seg2_b = [
    9.6, 19.4, 4.0, 12.8, -1.8, 7.2, -8.9, -3.0, -12.6, 5.1, -16.1, -7.4, -18.9, -2.2, -10.4, -14.8, 0.4, -6.6, -17.0, -4.9, 1.9,
    -7.9, 3.4, -2.4, -11.9, 6.6, -0.8, -5.7, 10.9, 2.0, -8.2, 4.3, -3.5, 12.7, -0.1, -9.9, 7.0, 1.2, -4.8, 8.9, -6.6, 3.8, -1.1, 11.3, -7.3, 5.0, -12.8, 0.8, 8.6, -3.4, 2.6,
    -5.2, 9.4, -1.7, 14.2, 2.9, -7.8, 6.1, -3.1, 12.0, -0.4, -9.4, 4.6, 8.8, -2.3, 1.7, -6.4, 11.3, 3.5, -4.5, 15.6, -0.9, 7.4, -7.9, 2.8, 9.9, -3.6, 5.3, -10.8, 0.3, 6.8,
    4.3, -5.0, 10.6, 2.0, -2.8, 16.9, 6.4, -7.6, 3.2, 11.7, -1.0, 8.0, 19.8, 0.1, -4.6, 12.7, 5.7, -8.6, 2.4, 9.1, -3.3, 7.0, -11.5, 1.3, 4.8, -5.9, 10.0, -0.6, -8.0, 3.9,
    -2.9, 6.1, -9.4, 1.0, -14.0, -4.9, 10.7, -7.7, -1.7, 4.9, -11.6, -3.0, 6.8, -8.1, 0.6, -16.2, -5.3, 3.5, -10.2, -0.6, 9.4, -6.3, -13.9, 1.5, -4.1, -9.7, 4.4, -2.6, -15.0, -6.7,
    -0.6, -12.5, 5.1, -4.1, -9.0, 2.9, -14.2, -1.5, 8.4, -6.7, 0.5, -10.6, 3.9, -3.0, -17.1, -0.9, 6.4, -7.9, 1.1, -5.5, 11.4, -2.6, -12.1, 2.2, -6.0, 9.0, -1.9, -9.2, 4.6, -3.7,
    -8.1, 2.5, -3.0, 10.5, -11.9, -0.1, 5.9, -5.4, 1.7, -14.5, 7.3, -2.1, 3.9, -8.7, 13.5, -0.8, -4.9, 8.6, -10.9, 2.0, -1.3, 6.5, -6.8, 0.7, 11.8, -3.3, -12.3, 4.1, -0.4, 7.0,
    3.6, -5.5, 10.8, -1.6, 6.7, -9.0, 1.9, -3.6, 13.3, -0.3, 4.6, -7.7, 8.5, -2.1, 1.4, -12.3, 5.7, -4.4, 9.8, -0.7, -8.7, 3.0, -5.2, 6.6, -13.7, -1.0, 2.4, -9.6, 4.3, -6.2,
    -3.1, -16.9, 0.8, -8.3, 4.0, -12.4, -6.5,
]
up_lowpass1 = [
    3.2, 3.4, 3.8, 3.2, 2.2, 1.6, 1.0, 1.4, 2.1, 2.8, 3.5, 4.4, 5.2, 4.6, 3.8, 3.0, 2.5, 2.1,
    2.0, 2.4, 3.0, 3.6, 4.2, 5.0, 4.8, 1.5, -4.5, -6.2, -5.8, -6.1, -5.6, -4.3, -3.0, -1.8, -0.6, 0.8,
    2.6, 4.6, 5.5, 3.8, 2.5, 1.6, 1.4, 2.0, 3.1, 4.3, 5.0, 5.1, 4.6, 3.3, 2.0, 0.8, -0.4, -1.3,
    -2.0, -3.2, -4.4, -5.6, -6.4, -4.8, -3.5, -2.2, -0.6, 0.9, 2.6, 4.4, 6.2, 8.8, 9.8,
]
up_lowpass2 = [
    4.5, 1.0, -3.5, -6.8, -5.5, -3.8, -2.2, -0.6, 0.2, -0.5, -1.6, -1.8, -1.0, 0.0, 0.1, -0.7, -1.0,
    -0.6, 0.6, 1.6, 2.0, 1.2, -0.2, -1.6, -2.8, -3.8, -4.1, -3.8, -3.5, -3.4, -3.3, -3.2,
    -2.9, -2.6, -2.2, -1.9, -1.6, -1.5, -1.3, -1.0, -0.6, -0.3, -0.1, -0.4, -1.2, -2.4, -3.6, -4.8, -5.9,
]

tick_start = "2018-06-08"
tick_step_days = 90
tick_labels = ["Jun-18", "Sep-18", "Dec-18", "Mar-19", "Jun-19", "Sep-19", "Nov-19", "Feb-20",
               "May-20", "Aug-20", "Nov-20", "Feb-21", "May-21", "Aug-21", "Nov-21", "Feb-22",
               "May-22", "Aug-22", "Nov-22", "Feb-23", "May-23"]
east_yticks = [-20, 0, 20]
north_yticks = [-10, 0, 10]
up_yticks = [-20, 0, 20, 40]
east_ylim = (-29.7, 33.2)
north_ylim = (-11.9, 11.2)
up_ylim = (-28.6, 40.0)
x_span_days = 1820
watermark_date = "2018-07-12"
watermark_value = -20.5

# ---------------- helpers ----------------
FONT = "Liberation Sans"
TXT = "#262626"
BLUE = "#0072BD"
FIG_W = 1706


def dates(start, n, step, offset=0.0):
    return pd.Timestamp(start) + pd.to_timedelta(offset + np.arange(n) * step, unit="D")


def daily_source(seg1, seg1_b, gap, seg2, seg2_b):
    x = np.concatenate([dates(seg1_start, len(seg1), sample_step_days).values,
                        dates(seg1_start, len(seg1_b), sample_step_days, b_offset_days).values,
                        pd.to_datetime(gap_dates).values[:len(gap)],
                        dates(seg2_start, len(seg2), sample_step_days).values,
                        dates(seg2_start, len(seg2_b), sample_step_days, b_offset_days).values])
    y = np.array(list(seg1) + list(seg1_b) + list(gap) + list(seg2) + list(seg2_b), dtype=float)
    return ColumnDataSource(dict(x=x, y=y))


def lowpass_source(lp1, lp2):
    x = np.concatenate([dates(seg1_start, len(lp1), lowpass_step_days).values,
                        pd.to_datetime(gap_dates[:1]).values,
                        dates(seg2_start, len(lp2), lowpass_step_days).values])
    y = np.array(list(lp1) + [np.nan] + list(lp2), dtype=float)
    return ColumnDataSource(dict(x=x, y=y))


t0 = pd.Timestamp(tick_start)
t0_ms = t0.value / 1e6
step_ms = tick_step_days * 86400000.0
tick_ms = [t0_ms + i * step_ms for i in range(len(tick_labels) + 1)]
x_range = Range1d(start=t0_ms, end=t0_ms + x_span_days * 86400000.0)
blank = CustomJSTickFormatter(code="return '';")


def style_axis(ax, show_labels):
    ax.major_tick_in = 15
    ax.major_tick_out = 0
    ax.minor_tick_in = 0
    ax.minor_tick_out = 0
    ax.minor_tick_line_color = None
    ax.major_tick_line_color = TXT
    ax.major_tick_line_width = 1
    ax.axis_line_color = TXT
    ax.axis_line_width = 1.2
    ax.major_label_text_font = FONT
    if show_labels:
        ax.major_label_text_font_size = "23px"
        ax.major_label_text_color = TXT
    else:
        ax.formatter = blank
        ax.major_label_text_font_size = "0px"
        ax.major_label_text_color = None
        ax.major_label_standoff = 0


def make_panel(ylabel, ylim, yticks, dsrc, lsrc, height, btop, bbot, show_x):
    p = figure(width=FIG_W, height=height, x_range=x_range, y_range=Range1d(*ylim),
               output_backend="svg", toolbar_location=None,
               min_border_left=92, min_border_right=0,
               min_border_top=btop, min_border_bottom=bbot)
    p.outline_line_color = TXT
    p.outline_line_width = 1.2
    xt = FixedTicker(ticks=tick_ms)
    yt = FixedTicker(ticks=yticks)
    p.xaxis.ticker = xt
    p.yaxis.ticker = yt
    p.xgrid.ticker = xt
    p.ygrid.ticker = yt
    p.xgrid.grid_line_color = "#e2e2e2"
    p.ygrid.grid_line_color = "#e2e2e2"

    xa = p.xaxis[0]
    style_axis(xa, show_x)
    if show_x:
        xa.formatter = CustomJSTickFormatter(
            args=dict(labels=tick_labels, t0=t0_ms, step=step_ms),
            code="const i = Math.round((tick - t0) / step); return (i >= 0 && i < labels.length) ? labels[i] : '';")
        xa.major_label_orientation = 0.6
        xa.major_label_standoff = 10
    ya = p.yaxis[0]
    style_axis(ya, True)
    ya.major_label_standoff = 7
    ya.axis_label = ylabel
    ya.axis_label_text_font = FONT
    ya.axis_label_text_font_size = "27px"
    ya.axis_label_text_font_style = "normal"
    ya.axis_label_text_color = TXT
    ya.axis_label_standoff = 6

    top = LinearAxis(ticker=xt)
    style_axis(top, False)
    p.add_layout(top, "above")
    right = LinearAxis(ticker=yt)
    style_axis(right, False)
    p.add_layout(right, "right")

    sc = p.scatter("x", "y", source=dsrc, marker="square", size=5,
                   fill_color=BLUE, line_color=None)
    ln = p.line("x", "y", source=lsrc, line_color="black", line_width=3)
    return p, sc, ln


f1, sc1, ln1 = make_panel("ΔEast(mm)", east_ylim, east_yticks,
                          daily_source(east_seg1, east_seg1_b, east_gap, east_seg2, east_seg2_b),
                          lowpass_source(east_lowpass1, east_lowpass2), 248, 10, 36, False)
f2, _, _ = make_panel("ΔNorth(mm)", north_ylim, north_yticks,
                      daily_source(north_seg1, north_seg1_b, north_gap, north_seg2, north_seg2_b),
                      lowpass_source(north_lowpass1, north_lowpass2), 256, 25, 28, False)
f3, _, _ = make_panel("ΔUp(mm)", up_ylim, up_yticks,
                      daily_source(up_seg1, up_seg1_b, up_gap, up_seg2, up_seg2_b),
                      lowpass_source(up_lowpass1, up_lowpass2), 310, 30, 76, True)

wm = Label(x=pd.Timestamp(watermark_date).value / 1e6, y=watermark_value,
           text="OSTEP TEST PRODUCT, INTERNAL USE ONLY", text_font=FONT,
           text_font_style="bold italic", text_font_size="33.5px", text_color="#a6a6a6",
           text_baseline="middle")
f1.add_layout(wm)

legend = Legend(items=[LegendItem(label="24 hr", renderers=[sc1]),
                       LegendItem(label="60 day low pass", renderers=[ln1])],
                location=(1364, 128), border_line_color="black", border_line_width=1,
                background_fill_color="white", background_fill_alpha=1.0,
                label_text_font=FONT, label_text_font_size="22px", label_text_color="black",
                glyph_width=62, glyph_height=26, label_height=26, spacing=2, padding=3,
                margin=0, label_standoff=2)
f1.add_layout(legend)

layout = column(f1, f2, f3, spacing=0)
open("out.html", "w").write(file_html(layout, INLINE))
